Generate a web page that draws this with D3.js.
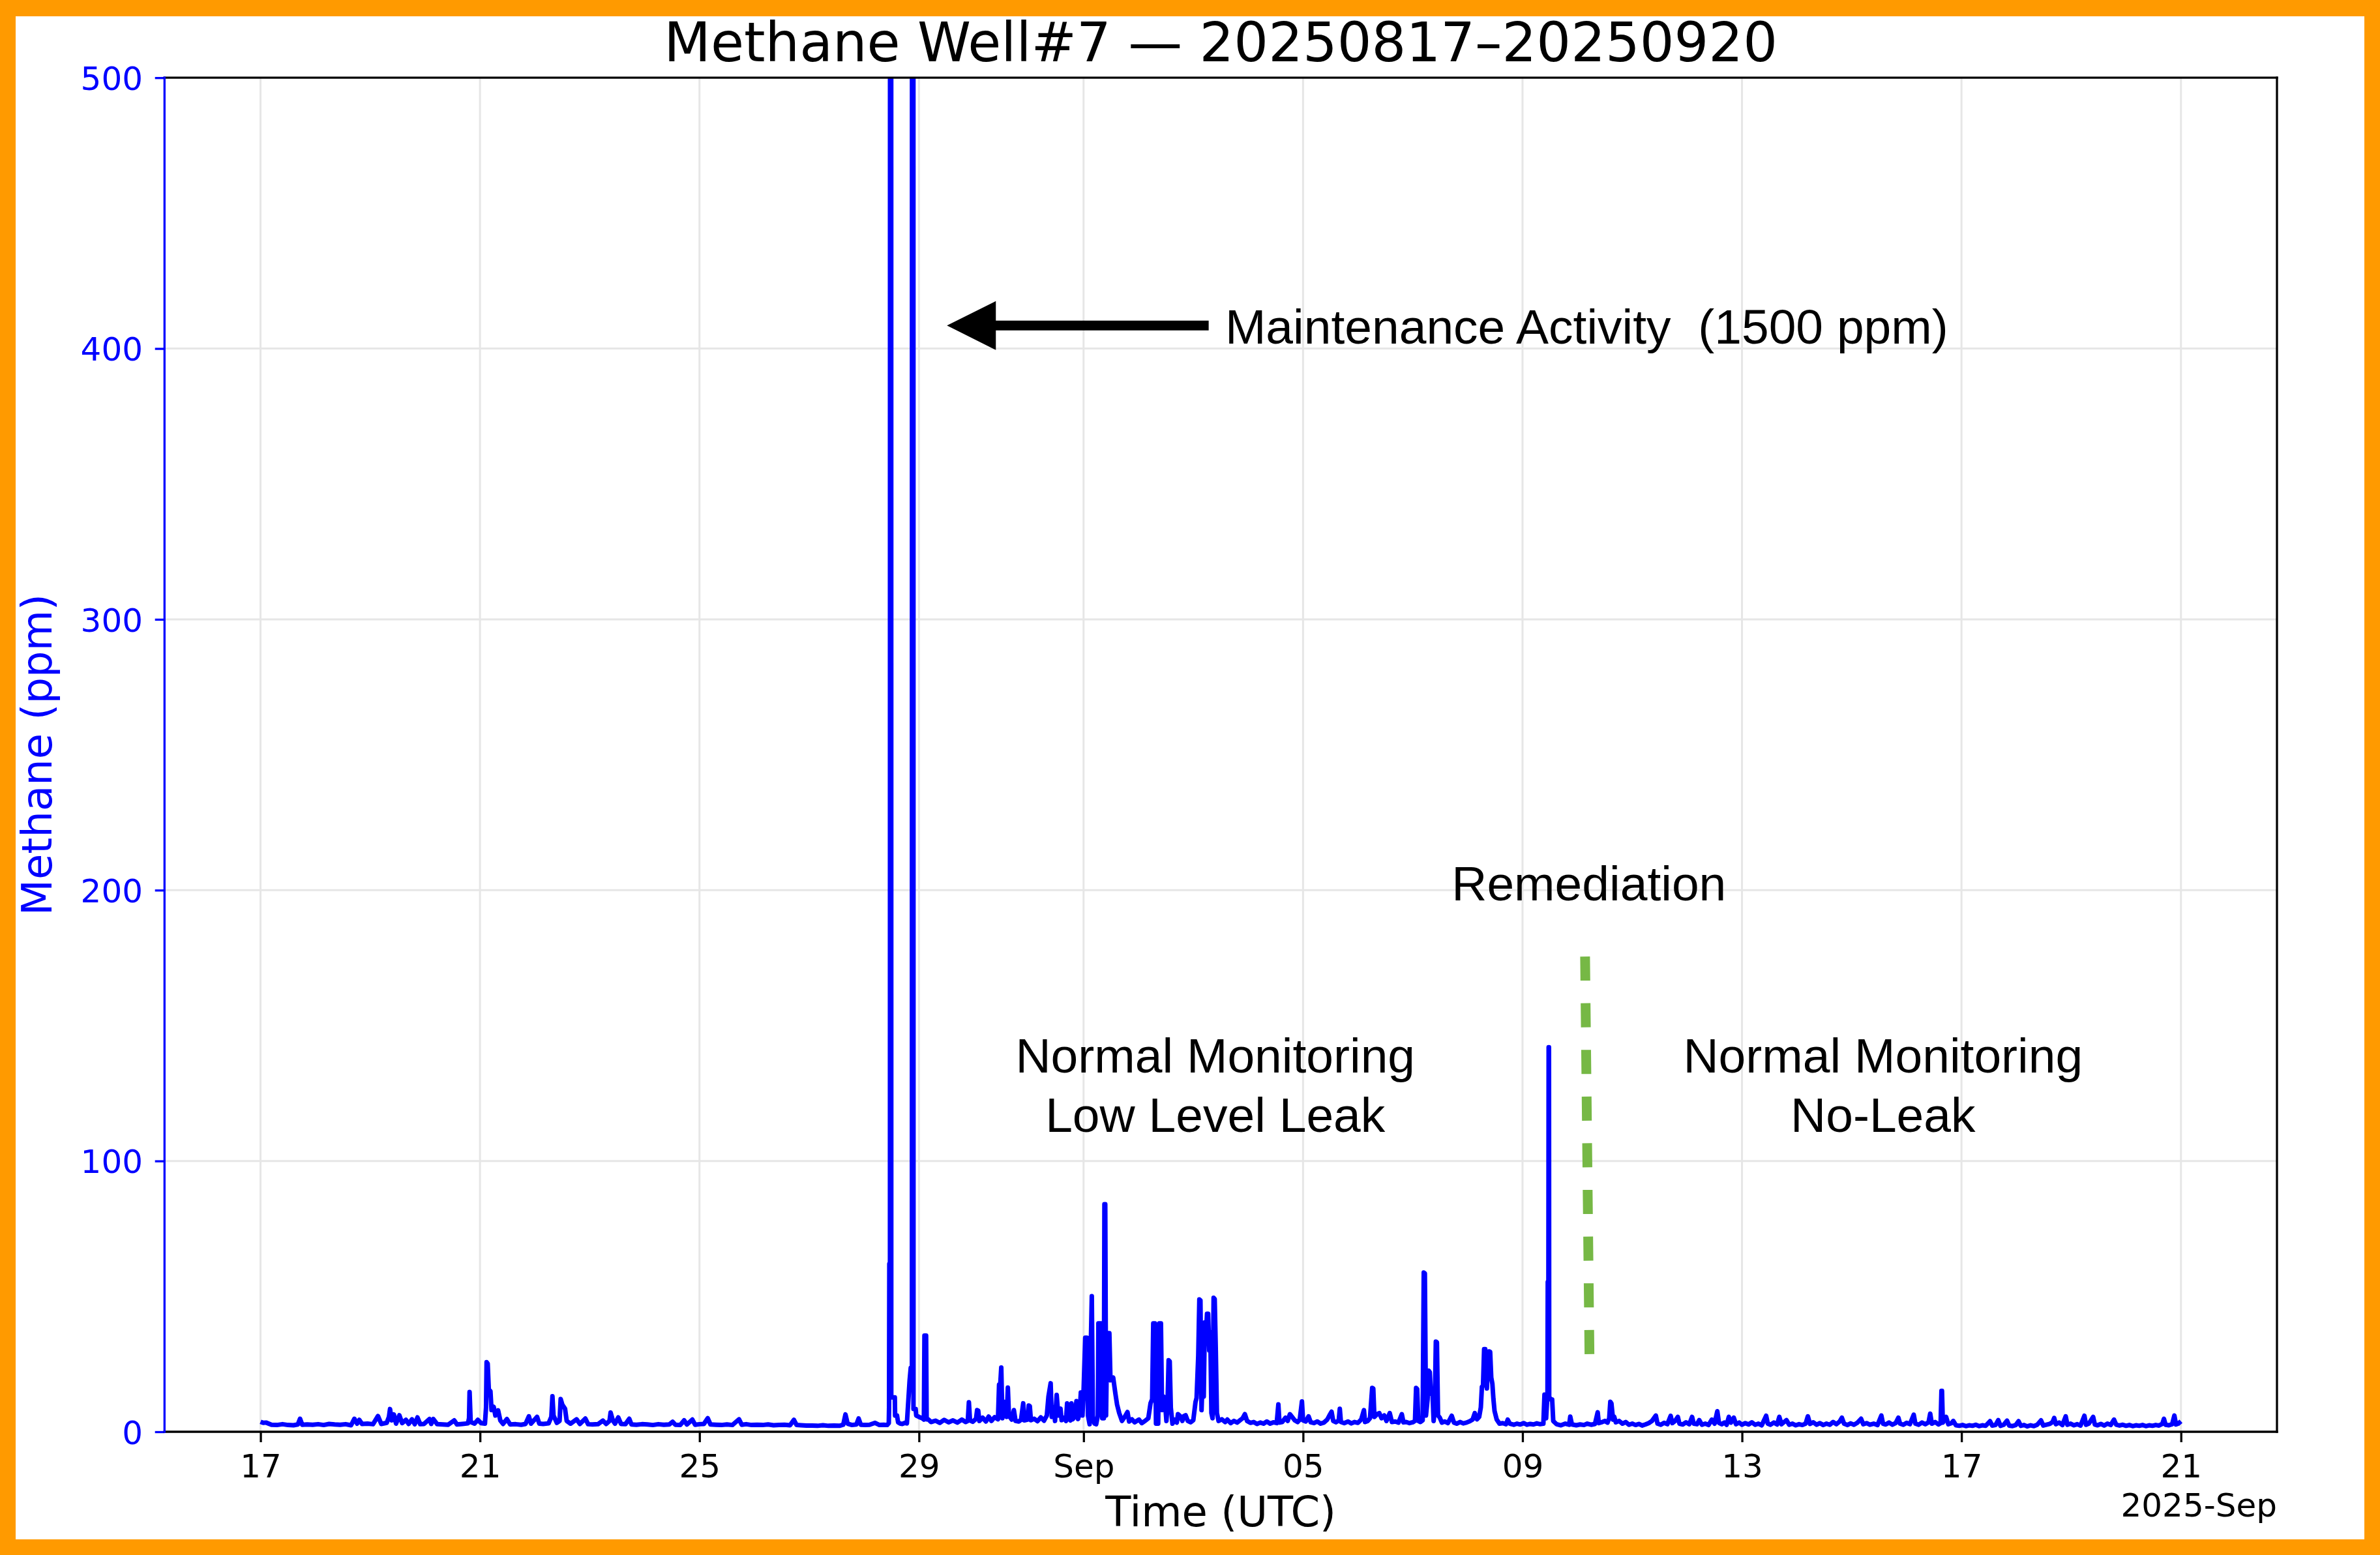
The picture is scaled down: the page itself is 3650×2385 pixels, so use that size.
<!DOCTYPE html>
<html><head><meta charset="utf-8">
<script src="https://cdn.jsdelivr.net/npm/d3@7"></script>
<style>html,body{margin:0;padding:0;background:#fff;} svg{display:block;}</style>
</head><body>
<svg id="chart"></svg>
<script>
// ---------------- DATA ----------------
const chartTitle = "Methane Well#7 — 20250817–20250920";
const xAxisLabel = "Time (UTC)";
const yAxisLabel = "Methane (ppm)";
const offsetLabel = "2025-Sep";
const startDateUTC = Date.UTC(2025, 7, 17);   // readings are [days since 2025-08-17 00:00 UTC, ppm]
const yTickValues = [0, 100, 200, 300, 400, 500];
const xTickDates = ["2025-08-17","2025-08-21","2025-08-25","2025-08-29","2025-09-01","2025-09-05","2025-09-09","2025-09-13","2025-09-17","2025-09-21"];
const xTickLabels = ["17","21","25","29","Sep","05","09","13","17","21"];

const preMaintenance = [
[0.00,3.7],[0.05,3.3],[0.10,3.4],[0.20,2.6],[0.30,2.5],[0.40,2.8],[0.50,2.5],[0.60,2.4],[0.68,2.7],[0.72,4.8],[0.76,2.6],[0.85,2.7],[0.95,2.6],
[1.05,2.8],[1.15,2.5],[1.25,2.9],[1.35,2.7],[1.45,2.6],[1.55,2.8],[1.65,2.4],[1.71,4.8],[1.76,3.0],[1.80,4.4],[1.85,2.9],[1.95,3.0],
[2.05,2.8],[2.14,5.8],[2.20,2.9],[2.30,3.3],[2.34,5.5],[2.36,8.4],[2.39,4.2],[2.43,6.4],[2.47,3.0],[2.53,6.1],[2.58,3.2],[2.65,4.4],[2.70,2.9],[2.76,4.6],[2.81,2.8],[2.86,5.3],[2.91,2.8],[2.98,2.9],
[3.08,4.7],[3.11,2.9],[3.15,4.7],[3.22,2.8],[3.32,2.7],[3.42,2.6],[3.53,4.2],[3.58,2.7],[3.68,2.9],[3.78,3.1],[3.80,5.0],[3.81,14.7],[3.83,3.6],[3.90,3.0],[3.96,4.4],[4.02,3.2],[4.09,3.0],
[4.11,9.0],[4.12,25.7],[4.14,25.2],[4.16,15.7],[4.19,15.0],[4.21,8.0],[4.25,9.2],[4.28,6.0],[4.33,7.9],[4.37,4.2],[4.42,2.9],[4.49,4.7],[4.55,2.7],[4.65,2.8],[4.75,2.6],[4.83,2.9],[4.89,5.7],[4.93,3.0],
[5.04,5.5],[5.08,3.0],[5.15,2.9],[5.25,3.1],[5.30,5.5],[5.32,13.1],[5.34,6.0],[5.40,3.3],[5.45,4.0],[5.47,12.1],[5.50,10.0],[5.55,8.5],[5.58,4.0],[5.65,3.0],[5.76,4.6],[5.82,2.9],[5.92,4.9],[5.97,2.8],
[6.05,2.7],[6.15,2.8],[6.24,4.1],[6.30,2.9],[6.36,4.0],[6.38,7.1],[6.42,4.2],[6.46,3.0],[6.52,5.3],[6.57,2.9],[6.65,2.8],[6.72,4.8],[6.76,2.7],[6.85,2.6],[6.95,2.8],
[7.05,2.7],[7.15,2.5],[7.25,2.8],[7.35,2.6],[7.45,2.7],[7.51,3.7],[7.56,2.6],[7.65,2.5],[7.72,4.2],[7.77,2.7],[7.87,4.5],[7.92,2.6],[8.00,2.8],
[8.08,2.9],[8.15,5.0],[8.20,2.7],[8.30,2.6],[8.40,2.5],[8.50,2.7],[8.60,2.5],[8.72,4.6],[8.77,2.6],[8.85,2.8],[8.95,2.5],
[9.05,2.6],[9.15,2.5],[9.25,2.7],[9.35,2.4],[9.45,2.5],[9.55,2.6],[9.65,2.4],[9.72,4.4],[9.77,2.5],[9.85,2.4],[9.95,2.3],
[10.05,2.3],[10.15,2.2],[10.25,2.4],[10.35,2.2],[10.45,2.3],[10.55,2.2],[10.62,2.6],[10.66,6.4],[10.70,3.0],[10.78,2.5],[10.86,2.7],[10.90,4.9],[10.94,2.6],
[11.02,2.5],[11.10,2.6],[11.20,3.3],[11.28,2.5],[11.36,2.6],[11.42,2.5]
];

const maintenance = [
[11.45,3.2],[11.455,9.0],[11.46,62.0],[11.472,62.0],[11.475,1500],[11.492,1500],[11.495,12.7],[11.56,12.7],[11.565,6.0],[11.60,6.0],
[11.62,3.5],[11.66,3.0],[11.70,2.9],[11.74,3.3],[11.78,3.1],[11.83,19.0],[11.85,23.6],[11.872,23.6],[11.876,1500],[11.895,1500],
[11.90,8.4],[11.94,8.4],[11.95,6.0],[12.00,5.5],[12.06,5.0],[12.09,4.5],[12.10,35.5],[12.13,35.5],[12.14,4.6]
];

const leakPeriod = [
[12.17,4.6],[12.22,3.6],[12.30,4.1],[12.38,3.3],[12.46,4.4],[12.54,3.5],[12.62,4.2],[12.70,3.4],[12.78,4.5],[12.85,3.6],[12.89,4.0],[12.91,10.9],[12.93,4.2],[12.98,3.7],
[13.04,4.8],[13.06,8.0],[13.08,7.8],[13.10,4.0],[13.16,5.2],[13.22,3.8],[13.27,5.6],[13.32,4.0],[13.38,5.4],[13.44,4.6],[13.46,17.4],[13.48,17.0],[13.50,23.7],[13.52,5.0],[13.56,11.0],[13.60,5.5],[13.62,16.3],[13.64,6.0],[13.69,4.5],[13.73,8.0],[13.76,4.0],[13.82,3.8],[13.86,4.4],[13.90,10.5],[13.92,4.2],[13.98,4.5],
[14.00,9.7],[14.02,9.5],[14.04,4.3],[14.10,4.8],[14.16,3.9],[14.22,5.3],[14.28,4.1],[14.33,6.0],[14.36,13.0],[14.40,17.9],[14.42,5.5],[14.46,9.0],[14.48,4.0],[14.51,13.6],[14.54,6.0],[14.58,8.5],[14.60,4.3],[14.64,5.1],[14.68,4.0],[14.70,10.5],[14.72,5.0],[14.76,4.2],[14.78,10.5],[14.80,4.6],[14.84,5.5],[14.87,11.3],[14.90,4.7],[14.93,7.0],[14.95,14.5],[14.98,6.0],
[15.00,15.0],[15.03,34.7],[15.06,34.7],[15.08,6.0],[15.11,2.8],[15.13,30.0],[15.15,50.1],[15.17,4.5],[15.20,3.0],[15.23,2.8],[15.26,6.0],[15.27,40.0],[15.32,40.0],[15.34,5.0],[15.37,5.0],[15.38,84.0],[15.395,84.0],[15.41,6.0],[15.43,36.4],[15.47,36.4],[15.49,19.0],[15.54,20.0],[15.58,14.1],[15.61,10.1],[15.65,6.9],[15.70,4.0],[15.75,5.5],[15.80,7.3],[15.83,3.8],[15.88,4.6],[15.93,3.5],
[16.01,4.5],[16.06,3.2],[16.12,4.0],[16.18,5.0],[16.22,10.5],[16.25,12.0],[16.27,40.0],[16.30,40.0],[16.32,3.0],[16.36,3.0],[16.38,40.0],[16.41,40.0],[16.43,8.0],[16.46,13.0],[16.48,12.1],[16.51,4.0],[16.53,10.0],[16.55,26.4],[16.57,26.0],[16.59,8.9],[16.62,3.0],[16.66,4.5],[16.70,3.4],[16.72,6.5],[16.76,5.8],[16.80,4.0],[16.83,5.8],[16.86,6.1],[16.90,4.0],[16.95,3.5],
[17.00,4.3],[17.04,11.0],[17.06,12.5],[17.09,28.0],[17.11,48.9],[17.13,48.5],[17.15,8.0],[17.17,19.8],[17.19,13.0],[17.21,40.4],[17.23,36.0],[17.25,43.6],[17.27,43.6],[17.29,30.0],[17.31,36.8],[17.33,6.9],[17.35,5.0],[17.37,49.5],[17.39,49.0],[17.41,30.0],[17.43,6.9],[17.46,4.0],[17.52,4.6],[17.58,3.6],[17.62,4.5],[17.68,3.2],[17.74,4.0],[17.80,3.4],[17.86,4.4],[17.90,5.0],[17.94,6.5],[17.98,4.0],
[18.04,3.3],[18.10,3.6],[18.16,2.9],[18.22,3.4],[18.28,3.0],[18.34,3.8],[18.40,3.0],[18.46,3.5],[18.52,3.2],[18.55,10.1],[18.57,3.4],[18.62,3.6],[18.68,5.2],[18.72,4.0],[18.76,6.5],[18.80,5.5],[18.85,4.2],[18.90,3.6],[18.94,4.5],[18.98,11.2],
[19.00,4.2],[19.05,3.8],[19.10,5.7],[19.14,3.5],[19.20,3.2],[19.26,3.8],[19.32,3.0],[19.38,3.4],[19.44,4.5],[19.48,6.0],[19.52,7.4],[19.55,4.0],[19.60,3.5],[19.65,4.2],[19.67,8.5],[19.69,3.6],[19.75,3.2],[19.82,3.8],[19.88,3.1],[19.94,3.6],
[20.00,3.3],[20.06,4.5],[20.11,8.0],[20.13,3.6],[20.18,4.0],[20.22,5.0],[20.26,16.2],[20.28,16.0],[20.30,5.5],[20.35,6.5],[20.39,6.9],[20.43,5.0],[20.48,6.0],[20.52,4.0],[20.58,6.9],[20.62,3.6],[20.68,3.8],[20.74,3.4],[20.80,6.5],[20.83,3.5],[20.88,3.6],[20.94,3.2],
[21.00,3.5],[21.04,4.0],[21.06,16.2],[21.08,15.8],[21.10,4.0],[21.14,3.6],[21.18,4.2],[21.20,58.8],[21.22,58.5],[21.24,6.0],[21.27,12.0],[21.29,22.6],[21.31,22.0],[21.33,14.1],[21.36,14.0],[21.38,4.0],[21.40,8.0],[21.42,33.3],[21.44,33.0],[21.46,6.0],[21.49,5.3],[21.53,3.4],[21.58,3.8],[21.64,3.2],[21.71,5.9],[21.75,3.4],[21.80,3.0],[21.86,3.6],[21.92,3.1],[21.98,3.4],
[22.04,3.9],[22.09,4.5],[22.13,6.9],[22.17,4.6],[22.21,5.5],[22.24,9.0],[22.26,16.6],[22.28,17.0],[22.30,30.5],[22.32,30.5],[22.35,16.0],[22.37,25.0],[22.39,29.7],[22.41,29.5],[22.43,20.0],[22.45,17.8],[22.47,12.0],[22.49,7.7],[22.53,4.5],[22.58,3.0],[22.64,3.2],[22.70,2.8],[22.73,4.5],[22.77,3.0],[22.84,2.6],[22.90,3.0],[22.96,2.7],
[23.02,3.2],[23.08,2.6],[23.14,2.9],[23.20,2.7],[23.26,3.1],[23.32,2.8]
];

const remediationSpike = [
[23.38,3.0],[23.40,13.7],[23.43,5.0],[23.455,14.0],[23.46,55.3],[23.472,55.3],[23.476,142.0],[23.482,142.0],[23.486,13.0],[23.51,12.0],[23.54,11.9],[23.56,4.0]
];

const postRemediation = [
[23.62,2.8],[23.70,2.4],[23.78,3.0],[23.85,2.6],[23.87,5.6],[23.90,2.7],[23.98,2.4],[24.05,2.7],[24.12,2.5],[24.18,3.0],[24.25,2.6],[24.32,2.9],[24.37,7.2],[24.39,3.2],[24.44,3.5],[24.50,4.0],[24.55,3.4],[24.58,5.0],[24.60,11.1],[24.62,10.5],[24.65,4.5],[24.67,5.6],[24.70,3.5],[24.76,4.0],[24.82,3.0],[24.88,3.6],[24.94,2.6],
[25.00,3.0],[25.06,2.5],[25.12,2.9],[25.18,2.3],[25.24,2.7],[25.30,3.2],[25.36,4.0],[25.43,6.0],[25.46,3.0],[25.52,2.6],[25.58,3.3],[25.64,2.8],[25.70,5.9],[25.73,3.2],[25.78,4.0],[25.83,5.5],[25.86,3.0],[25.92,2.7],[25.98,3.5],
[26.04,2.8],[26.09,5.5],[26.12,3.0],[26.18,2.8],[26.22,4.3],[26.27,2.6],[26.33,3.0],[26.39,2.5],[26.45,4.5],[26.50,3.0],[26.55,7.6],[26.58,3.3],[26.63,2.8],[26.68,3.4],[26.72,2.6],[26.76,5.5],[26.80,3.4],[26.85,5.2],[26.89,2.8],[26.95,3.4],
[27.00,2.6],[27.06,3.2],[27.12,2.7],[27.18,3.5],[27.24,2.6],[27.30,3.0],[27.36,2.4],[27.44,5.9],[27.47,3.0],[27.52,2.6],[27.58,3.4],[27.64,2.7],[27.68,5.5],[27.72,2.8],[27.81,4.3],[27.86,2.6],[27.92,3.0],[27.98,2.4],
[28.04,2.8],[28.10,2.5],[28.16,3.0],[28.20,5.7],[28.24,2.9],[28.30,3.5],[28.36,2.6],[28.42,3.2],[28.48,2.5],[28.54,3.0],[28.60,2.6],[28.66,3.6],[28.72,2.8],[28.78,3.8],[28.82,5.2],[28.86,3.0],[28.92,2.5],[28.98,3.1],
[29.04,2.6],[29.10,3.3],[29.17,4.8],[29.21,2.8],[29.27,3.2],[29.33,2.6],[29.40,3.0],[29.47,2.5],[29.54,6.0],[29.57,3.0],[29.62,2.7],[29.68,3.4],[29.74,2.6],[29.80,3.2],[29.85,5.2],[29.88,3.0],[29.94,2.6],
[30.00,3.3],[30.06,2.8],[30.13,6.3],[30.16,3.0],[30.22,2.6],[30.28,3.4],[30.34,2.8],[30.40,3.5],[30.43,6.7],[30.46,3.0],[30.52,3.6],[30.58,2.7],[30.62,3.2],[30.635,15.1],[30.645,15.1],[30.66,3.4],[30.72,5.5],[30.76,2.8],[30.82,3.2],[30.85,4.0],[30.90,2.4],[30.96,2.2],
[31.02,2.5],[31.08,2.1],[31.14,2.4],[31.20,2.2],[31.26,2.6],[31.32,2.1],[31.38,2.4],[31.44,2.2],[31.52,3.9],[31.56,2.3],[31.62,2.5],[31.67,4.3],[31.71,2.2],[31.77,2.6],[31.83,4.1],[31.87,2.3],[31.93,2.1],[31.99,2.5],
[32.04,3.9],[32.08,2.2],[32.14,2.5],[32.20,2.0],[32.26,2.4],[32.32,2.1],[32.38,2.6],[32.45,4.2],[32.49,2.3],[32.55,2.6],[32.61,2.9],[32.66,3.6],[32.69,5.1],[32.72,2.8],[32.78,3.4],[32.84,2.5],[32.90,5.7],[32.93,2.6],[32.99,3.0],
[33.05,2.4],[33.11,2.8],[33.17,2.3],[33.24,5.9],[33.27,2.6],[33.32,3.0],[33.40,5.5],[33.43,2.7],[33.48,2.4],[33.54,2.9],[33.60,2.3],[33.66,3.0],[33.72,2.5],[33.78,4.5],[33.82,2.6],[33.88,2.3],[33.94,2.6],
[34.00,2.2],[34.06,2.5],[34.12,2.1],[34.18,2.4],[34.24,2.2],[34.30,2.5],[34.36,2.1],[34.42,2.4],[34.48,2.2],[34.54,2.5],[34.60,2.3],[34.66,2.9],[34.69,4.8],[34.72,2.6],[34.78,2.4],[34.84,2.8],[34.88,6.0],[34.91,2.7],[34.95,3.0],[35.00,3.9]
];

// remediation marker (dashed green) endpoints: [days, ppm]
const remediationMarker = [[24.14, 175.5], [24.22, 28.6]];
// maintenance arrow: tip and tail in [days, ppm]
const maintenanceArrow = [[12.51, 408.5], [17.28, 408.5]];
const annotationTexts = [
  { lines: ["Maintenance Activity  (1500 ppm)"], day: 17.58, ppm: 401.8, anchor: "start" },
  { lines: ["Remediation"], day: 24.21, ppm: 196.2, anchor: "middle" },
  { lines: ["Normal Monitoring", "Low Level Leak"], day: 17.40, ppm: 132.7, anchor: "middle" },
  { lines: ["Normal Monitoring", "No-Leak"], day: 29.57, ppm: 132.7, anchor: "middle" }
];

// ---------------- LAYOUT ----------------
const W = 3650, H = 2385;
const plot = { left: 252.3, right: 3492, top: 119.2, bottom: 2196 };
const BLUE = "#0000ff", GREEN = "#76b845", ORANGE = "#ff9a00";
const DV = "DejaVu Sans", LIB = "Liberation Sans";
const dayToDate = d => new Date(startDateUTC + d * 86400000);

const svg = d3.select("#chart").attr("width", W).attr("height", H);
svg.append("rect").attr("width", W).attr("height", H).attr("fill", ORANGE);
svg.append("rect").attr("x", 24).attr("y", 25).attr("width", 3626 - 24).attr("height", 2361 - 25).attr("fill", "#fff");

const x = d3.scaleUtc().domain([dayToDate(-1.75), dayToDate(36.75)]).range([plot.left, plot.right]);
const y = d3.scaleLinear().domain([0, 500]).range([plot.bottom, plot.top]);
const tickDates = xTickDates.map(s => new Date(s + "T00:00:00Z"));

// grid
const grid = svg.append("g");
grid.selectAll("line.gx").data(tickDates).join("line")
  .attr("x1", d => x(d)).attr("x2", d => x(d)).attr("y1", plot.top).attr("y2", plot.bottom)
  .attr("stroke", "#e6e6e6").attr("stroke-width", 3);
grid.selectAll("line.gy").data(yTickValues.filter(v => v > 0 && v < 500)).join("line")
  .attr("x1", plot.left).attr("x2", plot.right).attr("y1", d => y(d)).attr("y2", d => y(d))
  .attr("stroke", "#e6e6e6").attr("stroke-width", 3);

// clip
svg.append("defs").append("clipPath").attr("id", "plotClip").append("rect")
  .attr("x", plot.left).attr("y", plot.top).attr("width", plot.right - plot.left).attr("height", plot.bottom - plot.top);

const readings = [].concat(preMaintenance, maintenance, leakPeriod, remediationSpike, postRemediation);
const line = d3.line().x(d => x(dayToDate(d[0]))).y(d => y(d[1]));
svg.append("path").datum(readings).attr("clip-path", "url(#plotClip)")
  .attr("d", line).attr("fill", "none").attr("stroke", BLUE).attr("stroke-width", 7)
  .attr("stroke-linejoin", "round").attr("stroke-linecap", "butt");

// remediation dashed marker
svg.append("path").datum(remediationMarker).attr("d", line)
  .attr("fill", "none").attr("stroke", GREEN).attr("stroke-width", 15).attr("stroke-dasharray", "37 34.6");

// axes
const yAxis = svg.append("g").attr("transform", `translate(${plot.left},0)`)
  .call(d3.axisLeft(y).tickValues(yTickValues).tickSize(14.6).tickPadding(18.7));
yAxis.select(".domain").remove();
yAxis.selectAll(".tick line").attr("stroke", BLUE).attr("stroke-width", 3.3);
yAxis.selectAll(".tick text").attr("fill", BLUE).attr("font-family", DV).attr("font-size", 50).attr("dy", "0.365em");

const xAxis = svg.append("g").attr("transform", `translate(0,${plot.bottom})`)
  .call(d3.axisBottom(x).tickValues(tickDates).tickFormat((d, i) => xTickLabels[i]).tickSize(16));
xAxis.select(".domain").remove();
xAxis.selectAll(".tick line").attr("stroke", "#000").attr("stroke-width", 3.3);
xAxis.selectAll(".tick text").attr("fill", "#000").attr("font-family", DV).attr("font-size", 50).attr("y", 70).attr("dy", 0);

// spines
const sp = svg.append("g").attr("stroke-width", 3.3).attr("stroke-linecap", "square");
sp.append("line").attr("x1", plot.left).attr("x2", plot.right).attr("y1", plot.top).attr("y2", plot.top).attr("stroke", "#000");
sp.append("line").attr("x1", plot.right).attr("x2", plot.right).attr("y1", plot.top).attr("y2", plot.bottom).attr("stroke", "#000");
sp.append("line").attr("x1", plot.left).attr("x2", plot.right).attr("y1", plot.bottom).attr("y2", plot.bottom).attr("stroke", "#000");
sp.append("line").attr("x1", plot.left).attr("x2", plot.left).attr("y1", plot.top).attr("y2", plot.bottom).attr("stroke", BLUE);

// texts
const cx = (plot.left + plot.right) / 2;
svg.append("text").attr("x", cx).attr("y", 94).attr("text-anchor", "middle")
  .attr("font-family", DV).attr("font-size", 83).attr("fill", "#000").text(chartTitle);
svg.append("text").attr("x", cx).attr("y", 2341).attr("text-anchor", "middle")
  .attr("font-family", DV).attr("font-size", 64).attr("fill", "#000").text(xAxisLabel);
svg.append("text").attr("transform", `translate(79,${(plot.top + plot.bottom) / 2}) rotate(-90)`).attr("text-anchor", "middle")
  .attr("font-family", DV).attr("font-size", 64).attr("fill", BLUE).text(yAxisLabel);
svg.append("text").attr("x", plot.right).attr("y", 2326).attr("text-anchor", "end")
  .attr("font-family", DV).attr("font-size", 50).attr("fill", "#000").text(offsetLabel);

// arrow
const tipX = x(dayToDate(maintenanceArrow[0][0])), tipY = y(maintenanceArrow[0][1]);
const tailX = x(dayToDate(maintenanceArrow[1][0]));
const headLen = 75, headHalf = 37.5, shaftHalf = 7.5;
svg.append("path").attr("fill", "#000")
  .attr("d", `M${tipX},${tipY} L${tipX + headLen},${tipY - headHalf} L${tipX + headLen},${tipY - shaftHalf} L${tailX},${tipY - shaftHalf} L${tailX},${tipY + shaftHalf} L${tipX + headLen},${tipY + shaftHalf} L${tipX + headLen},${tipY + headHalf} Z`);

// annotations
annotationTexts.forEach(a => {
  const t = svg.append("text").attr("font-family", LIB).attr("font-size", 75).attr("fill", "#000")
    .attr("text-anchor", a.anchor).style("white-space", "pre");
  a.lines.forEach((ln, i) => {
    t.append("tspan").attr("x", x(dayToDate(a.day))).attr("y", y(a.ppm) + i * 91).text(ln);
  });
});
</script>
</body></html>
